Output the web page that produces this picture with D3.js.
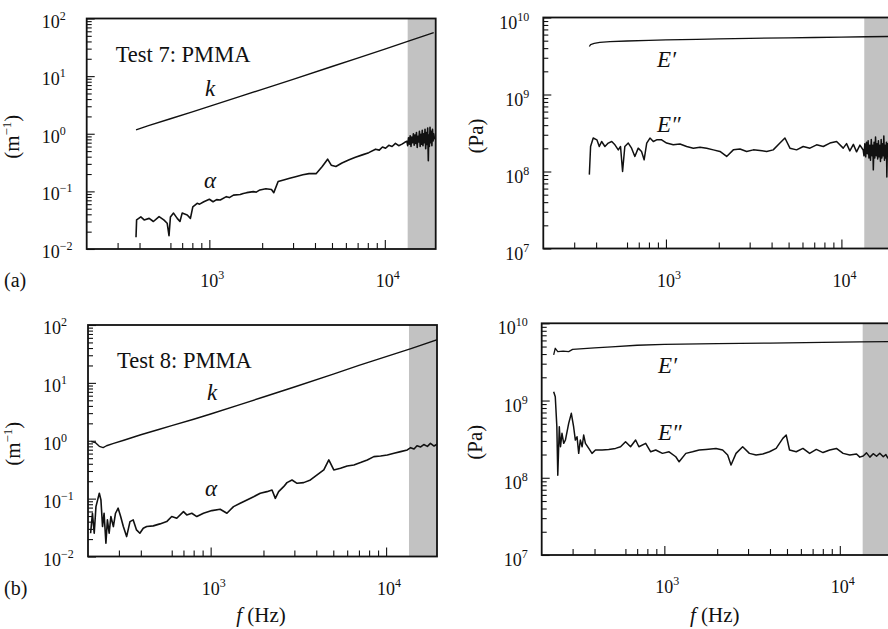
<!DOCTYPE html>
<html><head><meta charset="utf-8">
<script src="https://cdn.jsdelivr.net/npm/d3@7"></script>
<style>
body{margin:0;background:#fff}
text{font-family:"Liberation Serif","Times New Roman",serif;fill:#111}
</style>
</head><body>
<svg id="c" width="888" height="629"></svg>
<script>
// ---------------- data ----------------
const freqDomain = [200, 19500];
const shadeStart = 13500;
const xMajorTicks = [1e3, 1e4];
const xMinorTicks = [300, 400, 600, 700, 800, 900, 2000, 3000, 4000, 5000, 6000, 7000, 8000, 9000];
const attenTicks = [1e-2, 1e-1, 1e0, 1e1, 1e2];
const modTicks = [1e7, 1e8, 1e9, 1e10];

// Test 7 : k (m^-1)
const t7kF = [382, 450, 600, 800, 1000, 1500, 2000, 3000, 5000, 7000, 10000, 13500, 19000];
const t7kV = [1.17, 1.38, 1.82, 2.40, 2.98, 4.45, 5.9, 8.8, 14.7, 20.5, 29.5, 40, 57];
// Test 7 : alpha (m^-1)
const t7aF = [382, 385, 407, 425, 454, 480, 517, 550, 575, 589, 600, 625, 656, 680, 700, 748, 780, 805, 852, 880, 930, 1000, 1050, 1100, 1154, 1250, 1300, 1372, 1500, 1560, 1633, 1780, 1850, 1942, 2100, 2260, 2330, 2466, 2650, 2870, 3100, 3412, 3700, 4058, 4400, 4721, 4950, 5263, 5700, 6264, 6800, 7447, 8100, 8855, 9300, 9700, 10100, 10535, 11000, 11500, 12000, 12530, 13000, 13370,
  13500, 13650, 13800, 13950, 14100, 14250, 14400, 14550, 14700, 14850, 15000, 15150, 15300, 15450, 15600, 15750, 15900, 16050, 16200, 16350, 16500, 16650, 16800, 16950, 17100, 17250, 17400, 17550, 17700, 17800, 17950, 18100, 18250, 18400, 18550, 18700, 18850, 19000, 19200];
const t7aV = [0.016, 0.032, 0.036, 0.032, 0.034, 0.030, 0.0365, 0.032, 0.028, 0.017, 0.036, 0.042, 0.034, 0.030, 0.042, 0.039, 0.034, 0.054, 0.062, 0.060, 0.066, 0.073, 0.066, 0.072, 0.071, 0.081, 0.078, 0.086, 0.088, 0.092, 0.095, 0.099, 0.097, 0.106, 0.111, 0.108, 0.095, 0.148, 0.158, 0.169, 0.18, 0.194, 0.203, 0.203, 0.27, 0.362, 0.285, 0.27, 0.31, 0.353, 0.39, 0.43, 0.47, 0.54, 0.52, 0.59, 0.56, 0.63, 0.6, 0.68, 0.62, 0.66, 0.71, 0.74,
  0.62, 0.85, 0.66, 0.92, 0.6, 0.88, 0.7, 1.0, 0.63, 0.95, 0.68, 1.05, 0.58, 0.9, 0.72, 1.1, 0.6, 0.98, 0.66, 1.15, 0.62, 1.0, 0.7, 1.2, 0.55, 1.05, 0.65, 1.25, 0.34, 0.95, 0.6, 1.3, 0.7, 1.1, 0.62, 1.2, 0.75, 1.0, 0.8];

// Test 7 : E' (Pa)
const t7EpF = [366, 372, 390, 420, 480, 600, 800, 1000, 1500, 2000, 3000, 5000, 7000, 10000, 14000, 19500];
const t7EpV = [4.2e9, 4.45e9, 4.6e9, 4.75e9, 4.85e9, 4.95e9, 5.05e9, 5.12e9, 5.2e9, 5.28e9, 5.35e9, 5.45e9, 5.5e9, 5.55e9, 5.62e9, 5.68e9];
// Test 7 : E'' (Pa)
const t7EppF = [366, 372, 385, 404, 417, 430, 449, 469, 491, 512, 535, 551, 566, 583, 610, 637, 665, 695, 726, 751, 777, 811, 847, 885, 945, 1009, 1100, 1202, 1312, 1432, 1564, 1706, 1862, 2032, 2218, 2421, 2643, 2884, 3148, 3434, 3750, 4087, 4463, 4766, 5090, 5556, 6058, 6615, 7222, 7880, 8600, 9390, 10240, 10700, 11170, 11700, 12200, 12750, 13310,
  13450, 13600, 13750, 13900, 14050, 14200, 14350, 14500, 14650, 14800, 14950, 15100, 15200, 15350, 15500, 15650, 15800, 15950, 16100, 16250, 16400, 16550, 16700, 16850, 17000, 17150, 17300, 17450, 17600, 17750, 17900, 18050, 18150, 18300, 18450, 18600, 18800, 19000];
const t7EppV = [9.1e7, 2.11e8, 2.72e8, 2.58e8, 2.11e8, 2.45e8, 2.11e8, 2.34e8, 2.45e8, 2.22e8, 1.91e8, 2.11e8, 1.0e8, 2.11e8, 2.34e8, 2.01e8, 1.57e8, 2.01e8, 1.82e8, 1.42e8, 2.34e8, 2.72e8, 2.45e8, 2.58e8, 2.58e8, 2.34e8, 2.22e8, 2.28e8, 2.11e8, 2.01e8, 2.07e8, 2.01e8, 1.91e8, 1.82e8, 1.57e8, 1.91e8, 1.96e8, 1.82e8, 1.91e8, 1.87e8, 1.82e8, 1.91e8, 2.34e8, 2.72e8, 2.01e8, 1.91e8, 2.11e8, 2.01e8, 2.22e8, 2.11e8, 2.34e8, 2.45e8, 2.01e8, 2.3e8, 1.85e8, 2.25e8, 1.8e8, 2.2e8, 1.9e8,
  1.6e8, 2.3e8, 1.55e8, 2.4e8, 1.7e8, 2.5e8, 1.5e8, 2.2e8, 1.4e8, 2.6e8, 1.6e8, 2.2e8, 1.05e8, 2.4e8, 1.5e8, 2.8e8, 1.6e8, 2.3e8, 1.45e8, 2.5e8, 1.55e8, 2.2e8, 1.35e8, 2.6e8, 1.5e8, 2.3e8, 1.6e8, 2.9e8, 1.4e8, 2.2e8, 1.5e8, 2.4e8, 0.85e8, 2.3e8, 1.6e8, 2.5e8, 1.7e8, 2.2e8];

// Test 8 : k
const t8kF = [209, 220, 232, 244, 255, 280, 320, 400, 500, 600, 800, 1000, 1500, 2000, 3000, 5000, 7000, 10000, 14000, 19600];
const t8kV = [0.97, 0.93, 0.8, 0.76, 0.82, 0.9, 1.02, 1.27, 1.55, 1.82, 2.35, 2.9, 4.3, 5.7, 8.5, 14.2, 20, 28.5, 39.5, 56];
// Test 8 : alpha
const t8aF = [207, 212, 217, 222, 227, 232, 237, 242, 247, 253, 258, 264, 270, 279, 287, 297, 307, 318, 332, 347, 362, 378, 395, 413, 432, 471, 514, 562, 600, 641, 700, 731, 781, 834, 910, 1016, 1133, 1238, 1350, 1474, 1610, 1758, 1918, 2094, 2237, 2337, 2440, 2606, 2723, 2909, 3108, 3390, 3704, 4044, 4415, 4715, 5033, 5495, 6000, 6550, 7150, 7810, 8515, 9300, 10160, 11090, 12100, 13210, 13800, 14420, 15000, 15740, 16400, 17190, 17900, 18760, 19630];
const t8aV = [0.0252, 0.0559, 0.0252, 0.0728, 0.095, 0.124, 0.095, 0.0329, 0.0559, 0.0169, 0.0429, 0.0252, 0.049, 0.0329, 0.0559, 0.0683, 0.049, 0.0329, 0.0221, 0.0401, 0.0429, 0.0288, 0.0252, 0.0308, 0.0329, 0.0338, 0.0366, 0.0401, 0.049, 0.0458, 0.0597, 0.0523, 0.0559, 0.049, 0.0559, 0.0621, 0.0655, 0.0559, 0.0728, 0.0832, 0.095, 0.108, 0.124, 0.132, 0.141, 0.101, 0.132, 0.161, 0.189, 0.21, 0.184, 0.189, 0.21, 0.257, 0.313, 0.466, 0.313, 0.334, 0.367, 0.382, 0.419, 0.466, 0.532, 0.546, 0.569, 0.608, 0.649, 0.693, 0.76, 0.72, 0.82, 0.78, 0.86, 0.8, 0.9, 0.81, 0.88];

// Test 8 : E'
const t8EpF = [234, 239, 247, 265, 285, 300, 400, 500, 700, 1000, 2000, 4000, 8000, 13000, 19500];
const t8EpV = [3.9e9, 4.75e9, 4.3e9, 4.35e9, 4.3e9, 4.6e9, 4.8e9, 4.95e9, 5.2e9, 5.35e9, 5.45e9, 5.55e9, 5.65e9, 5.75e9, 5.8e9];
// Test 8 : E''
const t8EppF = [234, 239, 244, 247, 252, 256, 261, 267, 273, 285, 295, 304, 311, 318, 325, 332, 340, 347, 355, 371, 387, 405, 442, 482, 527, 563, 601, 642, 686, 716, 783, 836, 893, 975, 1064, 1162, 1214, 1326, 1447, 1580, 1725, 1969, 2149, 2295, 2399, 2562, 2795, 3052, 3333, 3639, 3973, 4337, 4735, 4950, 5170, 5645, 6163, 6729, 7348, 8023, 8760, 9565, 10443, 11402, 12450, 13000, 13590, 14200, 14840, 15500, 16200, 16900, 17690, 18300, 18830];
const t8EppV = [1.30e9, 1.12e9, 4.58e8, 1.08e8, 4.58e8, 2.52e8, 3.76e8, 2.79e8, 3.08e8, 5.07e8, 6.83e8, 4.58e8, 3.08e8, 3.40e8, 2.07e8, 3.08e8, 2.52e8, 3.57e8, 2.79e8, 2.40e8, 2.07e8, 2.29e8, 2.29e8, 2.33e8, 2.40e8, 2.52e8, 2.93e8, 2.52e8, 3.08e8, 2.52e8, 2.79e8, 2.17e8, 2.29e8, 2.07e8, 2.17e8, 1.87e8, 1.61e8, 2.07e8, 2.17e8, 2.29e8, 2.33e8, 2.40e8, 2.29e8, 1.97e8, 1.46e8, 2.07e8, 2.52e8, 2.07e8, 1.97e8, 2.03e8, 2.17e8, 2.40e8, 3.24e8, 3.57e8, 2.29e8, 2.17e8, 2.40e8, 2.07e8, 2.33e8, 2.12e8, 2.29e8, 2.40e8, 2.07e8, 1.97e8, 2.03e8, 1.85e8, 1.91e8, 2.1e8, 1.85e8, 2.05e8, 1.9e8, 2.08e8, 1.87e8, 2.0e8, 1.78e8];

// ---------------- drawing ----------------
const svg = d3.select("#c");
const panels = [
  {x0: 86.7, y0: 18.5, y1: 249, yDom: [1e-2, 1e2], yTicks: attenTicks, letter: "(a)", title: "Test 7: PMMA", unit: "m",
   series: [[t7kF, t7kV, 1.4], [t7aF, t7aV, 1.6]], xTitle: false, labDy: 9,
   labels: [["k", 205, 96], ["α", 204, 188]]},
  {x0: 543.3, y0: 17.5, y1: 248.5, yDom: [1e7, 1e10], yTicks: modTicks, unit: "Pa",
   series: [[t7EpF, t7EpV, 1.3], [t7EppF, t7EppV, 1.5]], xTitle: false, labDy: 11,
   labels: [["E′", 657, 67], ["E″", 657, 132]]},
  {x0: 88, y0: 325, y1: 556.5, yDom: [1e-2, 1e2], yTicks: attenTicks, letter: "(b)", title: "Test 8: PMMA", unit: "m",
   series: [[t8kF, t8kV, 1.4], [t8aF, t8aV, 1.6]], xTitle: true, labDy: 9,
   labels: [["k", 207, 400], ["α", 205, 496]]},
  {x0: 541.7, y0: 323.3, y1: 555, yDom: [1e7, 1e10], yTicks: modTicks, unit: "Pa",
   series: [[t8EpF, t8EpV, 1.3], [t8EppF, t8EppV, 1.5]], xTitle: true, labDy: 11,
   labels: [["E′", 658, 373], ["E″", 658, 440]]}
];
const panelW = 349;

panels.forEach((p, i) => {
  const x = d3.scaleLog().domain(freqDomain).range([p.x0, p.x0 + panelW]);
  const y = d3.scaleLog().domain(p.yDom).range([p.y1, p.y0]);
  const g = svg.append("g");
  const clipId = "clip" + i;
  svg.append("clipPath").attr("id", clipId).append("rect")
    .attr("x", p.x0).attr("y", p.y0).attr("width", panelW).attr("height", p.y1 - p.y0);

  // shaded band
  g.append("rect").attr("x", x(shadeStart)).attr("y", p.y0)
    .attr("width", x(freqDomain[1]) - x(shadeStart)).attr("height", p.y1 - p.y0)
    .attr("fill", "#c2c2c2");

  // x ticks (inward)
  const axMinor = d3.axisBottom(x).tickValues(xMinorTicks).tickSize(-6).tickFormat("");
  const axMajor = d3.axisBottom(x).tickValues(xMajorTicks).tickSize(-9).tickFormat("");
  [axMinor, axMajor].forEach(ax => {
    const a = g.append("g").attr("transform", `translate(0,${p.y1})`).call(ax);
    a.select(".domain").remove();
    a.selectAll("line").attr("stroke", "#111").attr("stroke-width", 1.1);
  });
  // y ticks (inward)
  const yMinor = [];
  const lo = Math.log10(p.yDom[0]), hi = Math.log10(p.yDom[1]);
  for (let e = lo; e < hi; e++) for (let m = 2; m <= 9; m++) yMinor.push(m * Math.pow(10, e));
  const ayMinor = d3.axisLeft(y).tickValues(yMinor).tickSize(-5).tickFormat("");
  const ayMajor = d3.axisLeft(y).tickValues(p.yTicks).tickSize(-8).tickFormat("");
  [ayMinor, ayMajor].forEach(ax => {
    const a = g.append("g").attr("transform", `translate(${p.x0},0)`).call(ax);
    a.select(".domain").remove();
    a.selectAll("line").attr("stroke", "#111").attr("stroke-width", 1.1);
  });

  // series
  const line = d3.line().x(d => x(d[0])).y(d => y(d[1]));
  p.series.forEach(([fs, vs, w]) => {
    g.append("path").datum(d3.zip(fs, vs)).attr("d", line)
      .attr("fill", "none").attr("stroke", "#111").attr("stroke-width", w)
      .attr("stroke-linejoin", "round").attr("clip-path", `url(#${clipId})`);
  });

  // frame
  g.append("rect").attr("x", p.x0).attr("y", p.y0).attr("width", panelW).attr("height", p.y1 - p.y0)
    .attr("fill", "none").attr("stroke", "#111").attr("stroke-width", 1.8);

  // y tick labels
  p.yTicks.forEach(v => {
    const e = Math.round(Math.log10(v));
    const t = g.append("text").attr("y", y(v) + p.labDy).attr("font-size", 18);
    if (p.unit === "m") t.attr("x", p.x0 - 45).attr("text-anchor", "start");
    else t.attr("x", p.x0 - 14).attr("text-anchor", "end");
    t.append("tspan").text("10");
    t.append("tspan").attr("dy", -8).attr("font-size", 12).text(e < 0 ? "−" + (-e) : String(e));
  });
  // x tick labels
  xMajorTicks.forEach(v => {
    const e = Math.round(Math.log10(v));
    const t = g.append("text").attr("x", x(v) + 3).attr("y", p.y1 + 38)
      .attr("text-anchor", "middle").attr("font-size", 18);
    t.append("tspan").text("10");
    t.append("tspan").attr("dy", -8).attr("font-size", 12).text(String(e));
  });

  // y title
  const ty = (p.y0 + p.y1) / 2 + 3;
  const tx = p.unit === "m" ? p.x0 - 68 : p.x0 - 60;
  const yt = g.append("text").attr("transform", `translate(${tx},${ty}) rotate(-90)`)
    .attr("text-anchor", "middle").attr("font-size", 21);
  if (p.unit === "m") {
    yt.append("tspan").text("(m");
    yt.append("tspan").attr("dy", -8).attr("font-size", 13).text("−1");
    yt.append("tspan").attr("dy", 8).text(")");
  } else {
    yt.text("(Pa)");
  }

  if (p.title) {
    g.append("text").attr("x", p.x0 + 29).attr("y", p.y0 + 43).attr("font-size", 22.5).text(p.title);
  }
  p.labels.forEach(([s, lx, ly]) => {
    g.append("text").attr("x", lx).attr("y", ly).attr("font-size", 23).attr("font-style", "italic").text(s);
  });
  if (p.letter) {
    g.append("text").attr("x", 4).attr("y", p.y1 + 38).attr("font-size", 20).text(p.letter);
  }
  if (p.xTitle) {
    const xt = g.append("text").attr("x", p.x0 + 173).attr("y", 622)
      .attr("text-anchor", "middle").attr("font-size", 21);
    xt.append("tspan").attr("font-style", "italic").text("f");
    xt.append("tspan").text(" (Hz)");
  }
});
</script>
</body></html>
